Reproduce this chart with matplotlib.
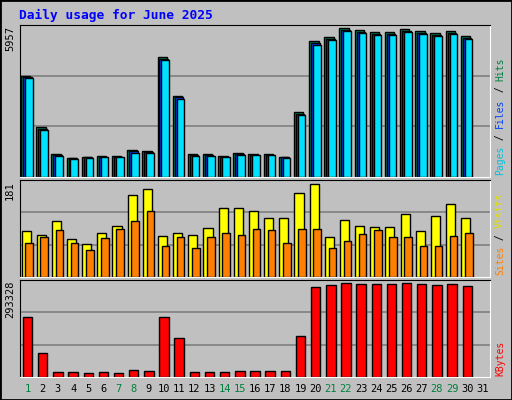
import matplotlib
matplotlib.use('Agg')
import matplotlib.pyplot as plt
import numpy as np

days = list(range(1, 31))
weekend = [1, 7, 8, 14, 15, 21, 22, 28, 29]

hits = [3971, 1946, 913, 755, 795, 835, 835, 1072, 1032, 4686, 3177, 913, 913, 835,
        953, 913, 913, 795, 2541, 5321, 5480, 5837, 5758, 5678, 5678, 5797, 5718, 5639, 5718, 5520]
files = [3930, 1900, 870, 730, 770, 800, 800, 1010, 990, 4640, 3120, 870, 870, 800,
         910, 880, 880, 770, 2480, 5250, 5420, 5780, 5700, 5620, 5620, 5740, 5660, 5580, 5660, 5460]
pages = [3880, 1860, 840, 700, 740, 770, 770, 960, 950, 4600, 3060, 840, 840, 770,
         870, 850, 850, 740, 2430, 5180, 5370, 5730, 5650, 5570, 5570, 5690, 5610, 5520, 5600, 5410]
visits = [85, 79, 104, 70, 62, 83, 96, 153, 164, 77, 83, 79, 92, 128, 128, 124,
          111, 111, 156, 173, 74, 107, 96, 94, 94, 117, 85, 113, 136, 111]
sites = [64, 74, 87, 64, 51, 72, 89, 104, 124, 57, 75, 55, 74, 83, 79, 90,
         87, 64, 89, 89, 55, 68, 81, 87, 74, 75, 57, 57, 77, 83]
kbytes = [182000, 74000, 15400, 15400, 12300, 15400, 12300, 21600, 18500, 182000, 117000, 15400,
          15400, 15400, 18500, 18500, 18500, 18500, 123500, 271700, 277900, 284100, 281000, 281000,
          281000, 284100, 281000, 277900, 281000, 274800]
max_hits, max_visits, max_kb = 5957, 181, 293328

W, H = 512, 400
fig = plt.figure(figsize=(W / 100, H / 100), dpi=100, facecolor='#C0C0C0')
mono = 'DejaVu Sans Mono'

# outer bevel
fig.patches.append(plt.Rectangle((0, 0), 1, 1, transform=fig.transFigure, fill=False,
                                 edgecolor='black', linewidth=2))

fig.text(19 / W, 1 - 15 / H, 'Daily usage for June 2025', color='#0000FF', family=mono,
         fontweight='bold', fontsize=9.3, va='center', ha='left')

def panel(y0, y1):
    ax = fig.add_axes([20 / W, 1 - y1 / H, 470 / W, (y1 - y0) / H])
    ax.set_facecolor('#C0C0C0')
    ax.set_xlim(0.5, 31.5)
    ax.set_xticks([])
    ax.set_yticks([])
    for s in ['left', 'top']:
        ax.spines[s].set_color('black')
    for s in ['right', 'bottom']:
        ax.spines[s].set_color('white')
    return ax

x = np.array(days)

ax1 = panel(25, 177)
ax1.set_ylim(0, max_hits)
for g in (max_hits / 3, 2 * max_hits / 3):
    ax1.axhline(g, color='#808080', lw=1.2, zorder=0)
ax1.bar(x - 0.12, hits, width=0.62, color='#00805C', edgecolor='black', lw=1)
ax1.bar(x - 0.02, files, width=0.56, color='#0040FF', edgecolor='black', lw=1)
ax1.bar(x + 0.08, pages, width=0.5, color='#00E0FF', edgecolor='black', lw=1)

ax2 = panel(180, 277)
ax2.set_ylim(0, max_visits)
for g in (max_visits / 3, 2 * max_visits / 3):
    ax2.axhline(g, color='#808080', lw=1.2, zorder=0)
ax2.bar(x - 0.1, visits, width=0.6, color='#FFFF00', edgecolor='black', lw=1)
ax2.bar(x + 0.1, sites, width=0.5, color='#FF8000', edgecolor='black', lw=1)

ax3 = panel(280, 377)
ax3.set_ylim(0, max_kb)
for g in (max_kb / 3, 2 * max_kb / 3):
    ax3.axhline(g, color='#808080', lw=1.2, zorder=0)
ax3.bar(x, kbytes, width=0.62, color='#FF0000', edgecolor='black', lw=1)

# day labels
for d in range(1, 32):
    xp = (20 + (d - 0.5) * 470 / 31) / W
    fig.text(xp, 1 - 389 / H, str(d), ha='center', va='center', fontsize=7.5, family=mono,
             color='#008040' if d in weekend else 'black')

# max labels on the left
for yp, lab in [(26, str(max_hits)), (181, str(max_visits)), (281, str(max_kb))]:
    fig.text(10 / W, 1 - yp / H, lab, rotation=90, ha='center', va='top', fontsize=7.5, family=mono)

# right side legends (bottom to top)
def legend(ybottom, parts):
    y = ybottom
    for txt, col in parts:
        fig.text(500 / W, 1 - y / H, txt, rotation=90, ha='center', va='bottom',
                 fontsize=7, family=mono, color=col)
        y -= len(txt) * 5.9

legend(175, [('Pages', '#00C0E0'), (' / ', 'black'), ('Files', '#0040FF'), (' / ', 'black'), ('Hits', '#008040')])
legend(275, [('Sites', '#FF8000'), (' / ', 'black'), ('Visits', '#E0E000')])
legend(376, [('KBytes', '#FF0000')])

fig.savefig('out.png', dpi=100, facecolor=fig.get_facecolor())
